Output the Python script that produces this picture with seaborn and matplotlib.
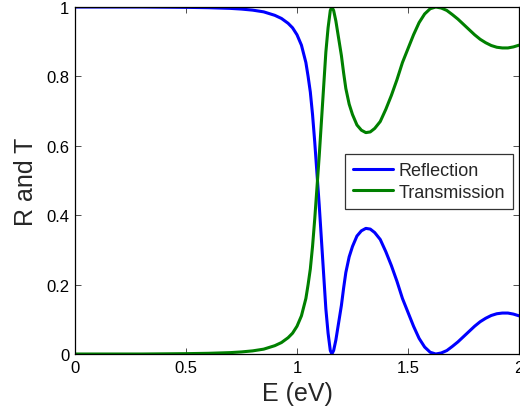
import numpy as np
import pandas as pd
import matplotlib
matplotlib.use("Agg")
import matplotlib.pyplot as plt
import seaborn as sns

# Energy (eV) sample points
energy = [0.0, 0.3, 0.5, 0.6, 0.7, 0.75, 0.8, 0.85, 0.9, 0.93, 0.96, 0.98,
          1.0, 1.02, 1.04, 1.05, 1.06, 1.07, 1.08, 1.09, 1.1, 1.11, 1.12, 1.13,
          1.14, 1.15, 1.157, 1.165, 1.175, 1.19, 1.2, 1.21, 1.22, 1.235, 1.25,
          1.27, 1.29, 1.31, 1.33, 1.35, 1.375, 1.4, 1.425, 1.45, 1.475, 1.5,
          1.525, 1.55, 1.575, 1.6, 1.625, 1.65, 1.675, 1.7, 1.725, 1.75, 1.775,
          1.8, 1.825, 1.85, 1.875, 1.9, 1.925, 1.95, 1.975, 2.0]

transmission = [0.0, 0.0, 0.001, 0.002, 0.004, 0.006, 0.009, 0.014, 0.024, 0.033,
                0.047, 0.06, 0.08, 0.11, 0.16, 0.2, 0.245, 0.31, 0.39, 0.48,
                0.57, 0.67, 0.77, 0.87, 0.94, 0.99, 1.0, 0.99, 0.96, 0.9, 0.86,
                0.81, 0.765, 0.72, 0.69, 0.66, 0.645, 0.638, 0.64, 0.65, 0.67,
                0.705, 0.745, 0.79, 0.84, 0.88, 0.92, 0.955, 0.98, 0.995, 1.0,
                0.997, 0.99, 0.978, 0.965, 0.95, 0.935, 0.92, 0.907, 0.897,
                0.889, 0.884, 0.882, 0.882, 0.885, 0.89]

reflection = [1.0, 1.0, 0.999, 0.998, 0.996, 0.994, 0.991, 0.986, 0.976, 0.967,
              0.953, 0.94, 0.92, 0.89, 0.84, 0.8, 0.755, 0.69, 0.61, 0.52,
              0.43, 0.33, 0.23, 0.13, 0.06, 0.01, 0.0, 0.01, 0.04, 0.1, 0.14,
              0.19, 0.235, 0.28, 0.31, 0.34, 0.355, 0.362, 0.36, 0.35, 0.33,
              0.295, 0.255, 0.21, 0.16, 0.12, 0.08, 0.045, 0.02, 0.005, 0.0,
              0.003, 0.01, 0.022, 0.035, 0.05, 0.065, 0.08, 0.093, 0.103,
              0.111, 0.116, 0.118, 0.118, 0.115, 0.11]

series_names = ["Reflection", "Transmission"]
series_colors = ["#0000ff", "#008000"]

x_ticks = [0, 0.5, 1, 1.5, 2]
x_ticklabels = ["0", "0.5", "1", "1.5", "2"]
y_ticks = [0, 0.2, 0.4, 0.6, 0.8, 1]
y_ticklabels = ["0", "0.2", "0.4", "0.6", "0.8", "1"]

df = pd.DataFrame({
    "E": energy + energy,
    "value": reflection + transmission,
    "series": [series_names[0]] * len(energy) + [series_names[1]] * len(energy),
})

sns.set_style("ticks")
plt.rcParams["font.family"] = ["Liberation Sans", "DejaVu Sans"]

fig = plt.figure(figsize=(5.2, 4.14), dpi=100)
ax = fig.add_axes([75 / 520, 59 / 414, 444 / 520, 347 / 414])

sns.lineplot(data=df, x="E", y="value", hue="series",
             hue_order=series_names, palette=series_colors,
             linewidth=2.2, ax=ax, sort=False, estimator=None)

ax.set_xlim(0, 2)
ax.set_ylim(0, 1)
ax.set_xticks(x_ticks)
ax.set_xticklabels(x_ticklabels)
ax.set_yticks(y_ticks)
ax.set_yticklabels(y_ticklabels)
ax.tick_params(direction="in", length=4, width=0.6, labelsize=12,
               top=True, right=True, colors="#333333", labelcolor="black", pad=4)
for s in ax.spines.values():
    s.set_visible(True)
    s.set_linewidth(0.9)
    s.set_color("black")

ax.set_xlabel("E (eV)", fontsize=18, labelpad=5)
ax.set_ylabel("R and T", fontsize=18, labelpad=6)

leg = ax.legend(loc="upper right", bbox_to_anchor=((513 - 75) / 444, (355 - 155) / 347),
                fontsize=13, frameon=True, fancybox=False, handlelength=2.2,
                handletextpad=0.3, borderpad=0.45, labelspacing=0.25, borderaxespad=0)
leg.get_frame().set_edgecolor("black")
leg.get_frame().set_linewidth(0.9)
for line in leg.get_lines():
    line.set_linewidth(2.2)

fig.savefig("out.png", dpi=100)
